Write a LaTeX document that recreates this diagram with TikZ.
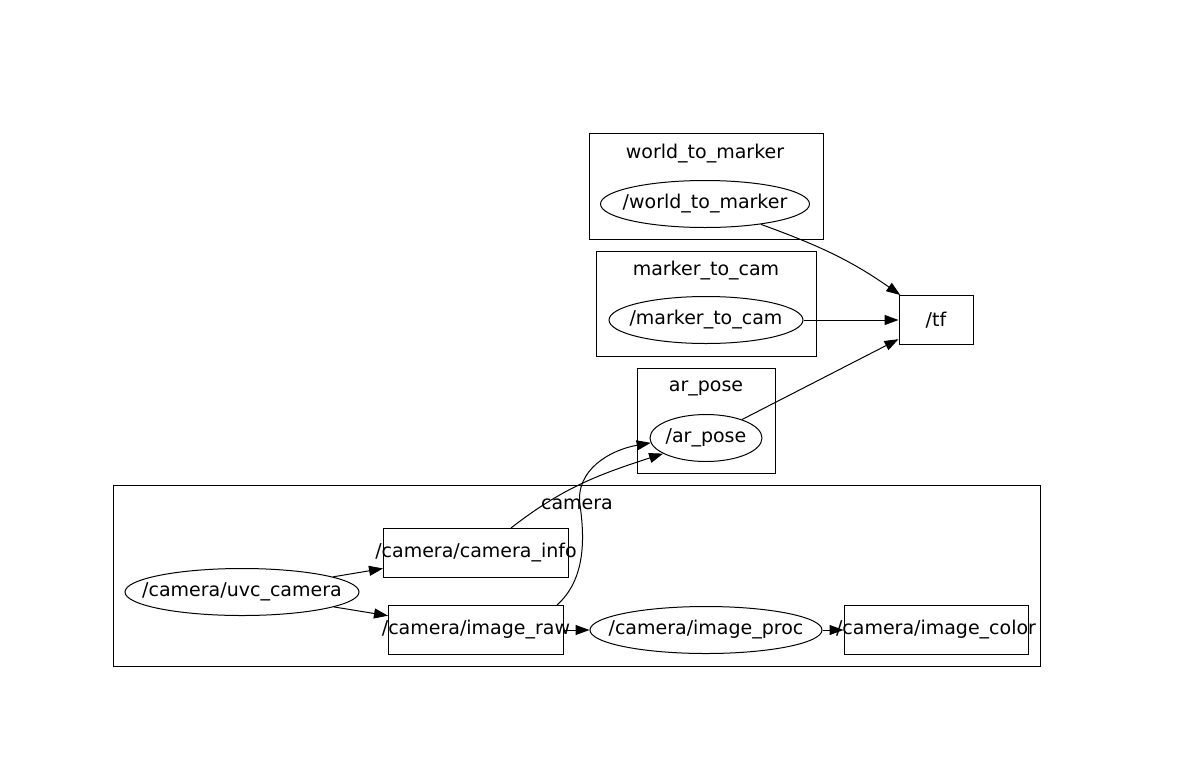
\documentclass[tikz,border=0pt]{standalone}
\usepackage{fontspec}
\setmainfont{DejaVu Sans}
\usepackage{tikz}
\usetikzlibrary{shapes.geometric, arrows.meta}
\newcommand{\ztext}[1]{\makebox[0pt]{\raisebox{-1.5pt}{#1}}}

\begin{document}
\begin{tikzpicture}[x=1pt, y=1pt,
    every node/.style={font=\fontsize{19}{22}\selectfont, inner sep=0pt},
    topic/.style={draw, line width=1pt, rectangle, minimum height=49pt},
    rosnode/.style={draw, line width=1pt, ellipse, minimum height=47pt},
    cluster/.style={draw, line width=1pt},
    edge/.style={line width=1pt, -{Triangle[length=14pt, width=10pt]}}]
  \useasboundingbox (0,0) rectangle (1202,-772);

  % world_to_marker cluster
  \draw[cluster] (589,-133) rectangle (823,-239);
  \node (w2mlbl) at (705,-154) {world\_to\_marker};
  \node[rosnode, minimum width=209pt] (w2m) at (705,-204) {\ztext{/world\_to\_marker}};

  % marker_to_cam cluster
  \draw[cluster] (596,-251) rectangle (816,-356);
  \node (m2clbl) at (706,-271) {marker\_to\_cam};
  \node[rosnode, minimum width=194pt] (m2c) at (706,-320) {\ztext{/marker\_to\_cam}};

  % ar_pose cluster
  \draw[cluster] (637,-368) rectangle (775,-473);
  \node (arlbl) at (706,-388) {ar\_pose};
  \node[rosnode, minimum width=112pt] (arpose) at (706,-438) {\ztext{/ar\_pose}};

  % /tf topic
  \node[topic, minimum width=74pt] (tf) at (936,-320) {\ztext{/tf}};

  % camera cluster
  \draw[cluster] (113,-485) rectangle (1040,-666);
  \node (camlbl) at (577,-504) {camera};
  \node[rosnode, minimum width=234pt] (uvc) at (242,-592) {\ztext{/camera/uvc\_camera}};
  \node[topic, minimum width=185pt] (info) at (476,-553) {\ztext{/camera/camera\_info}};
  \node[topic, minimum width=175pt] (raw) at (476,-630) {\ztext{/camera/image\_raw}};
  \node[rosnode, minimum width=232pt] (proc) at (706,-630) {\ztext{/camera/image\_proc}};
  \node[topic, minimum width=184pt] (color) at (936,-630) {\ztext{/camera/image\_color}};

  % edges
  \draw[edge] (w2m) to[out=-20, in=145] (tf);
  \draw[edge] (m2c) -- (tf);
  \draw[edge] (arpose) -- (tf);
  \draw[edge] (uvc) -- (info);
  \draw[edge] (uvc) -- (raw);
  \draw[edge] (raw) -- (proc);
  \draw[edge] (proc) -- (color);
  \draw[edge] ([xshift=35pt]info.north) to[out=38, in=198] (arpose.200);
  \draw[edge] ([xshift=-7pt]raw.north east) .. controls (585,-580) and (585,-540) .. (580,-505)
    .. controls (575,-470) and (610,-450) .. (arpose.185);
\end{tikzpicture}
\end{document}
